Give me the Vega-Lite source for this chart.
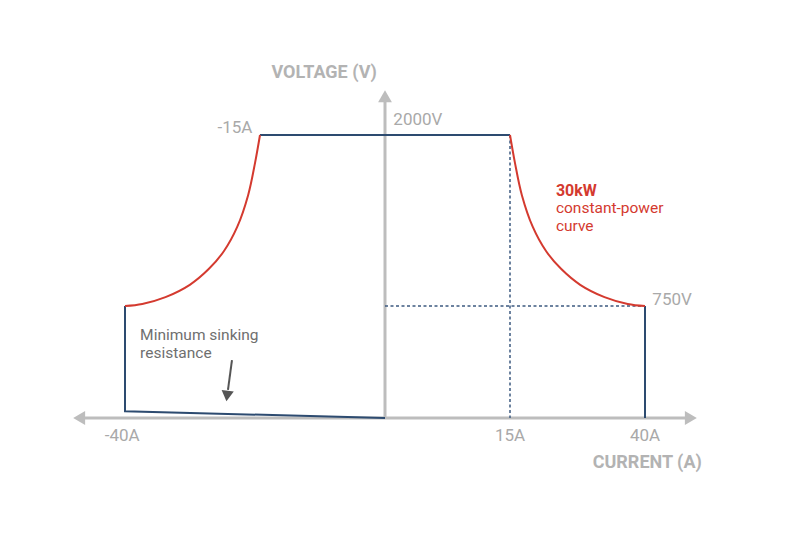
{
  "$schema": "https://vega.github.io/schema/vega-lite/v6.json",
  "width": 800,
  "height": 546,
  "padding": 0,
  "autosize": "none",
  "background": "white",
  "config": {"view": {"stroke": null}, "text": {"font": "Roboto"}},
  "datasets": {
    "axes": [
      {"seg": "x", "i": -45, "v": 0, "o": 1},
      {"seg": "x", "i": 45, "v": 0, "o": 2},
      {"seg": "y", "i": 0, "v": 0, "o": 1},
      {"seg": "y", "i": 0, "v": 2330, "o": 2}
    ],
    "heads": [
      {"i": -45, "v": 0, "shape": "triangle-left"},
      {"i": 45, "v": 0, "shape": "triangle-right"},
      {"i": 0, "v": 2330, "shape": "triangle-up"}
    ],
    "dashed": [
      {"seg": "h", "i": 0, "v": 750, "o": 1},
      {"seg": "h", "i": 40, "v": 750, "o": 2},
      {"seg": "vv", "i": 15, "v": 2000, "o": 1},
      {"seg": "vv", "i": 15, "v": 0, "o": 2}
    ],
    "blue": [
      {"seg": "top", "i": -15, "v": 2000, "o": 1},
      {"seg": "top", "i": 15, "v": 2000, "o": 2},
      {"seg": "right", "i": 40, "v": 750, "o": 1},
      {"seg": "right", "i": 40, "v": 0, "o": 2},
      {"seg": "left", "i": -40, "v": 750, "o": 1},
      {"seg": "left", "i": -40, "v": 45, "o": 2},
      {"seg": "left", "i": 0, "v": 0, "o": 3}
    ],
    "red": [
      {"seg": "R", "i": 15, "v": 2000, "o": 1},
      {"seg": "R", "i": 15.9, "v": 1800, "o": 2},
      {"seg": "R", "i": 17.2, "v": 1560, "o": 3},
      {"seg": "R", "i": 19.2, "v": 1330, "o": 4},
      {"seg": "R", "i": 21.7, "v": 1150, "o": 5},
      {"seg": "R", "i": 24.5, "v": 1020, "o": 6},
      {"seg": "R", "i": 28, "v": 905, "o": 7},
      {"seg": "R", "i": 32.5, "v": 815, "o": 8},
      {"seg": "R", "i": 36.8, "v": 765, "o": 9},
      {"seg": "R", "i": 40, "v": 750, "o": 10},
      {"seg": "L", "i": -40, "v": 750, "o": 1},
      {"seg": "L", "i": -36.8, "v": 765, "o": 2},
      {"seg": "L", "i": -32.5, "v": 815, "o": 3},
      {"seg": "L", "i": -28, "v": 905, "o": 4},
      {"seg": "L", "i": -24.5, "v": 1020, "o": 5},
      {"seg": "L", "i": -21.7, "v": 1150, "o": 6},
      {"seg": "L", "i": -19.2, "v": 1330, "o": 7},
      {"seg": "L", "i": -17.2, "v": 1560, "o": 8},
      {"seg": "L", "i": -15.9, "v": 1800, "o": 9},
      {"seg": "L", "i": -15, "v": 2000, "o": 10}
    ],
    "pointer": [
      {"i": -20.19, "v": 388, "o": 1},
      {"i": -20.93, "v": 188, "o": 2}
    ],
    "pointerHead": [{"i": -21.1, "v": 147}],
    "labelsCenter": [
      {"t": "-40A", "i": -40.3, "v": -120},
      {"t": "15A", "i": 15, "v": -120},
      {"t": "40A", "i": 40, "v": -120}
    ],
    "labelsLeft": [
      {"t": "2000V", "i": 1.0, "v": 2128},
      {"t": "750V", "i": 40.8, "v": 794}
    ],
    "labelsRight": [
      {"t": "-15A", "i": -16.4, "v": 2060}
    ],
    "titleV": [{"t": "VOLTAGE (V)", "i": -7.3, "v": 2528}],
    "titleA": [{"t": "CURRENT (A)", "i": 46.2, "v": -301}],
    "note": [
      {"t": ["Minimum sinking", "resistance"], "i": -37.2, "v": 542}
    ],
    "redBold": [{"t": "30kW", "i": 23.5, "v": 1591}],
    "redText": [
      {"t": ["constant-power", "curve"], "i": 23.5, "v": 1452}
    ]
  },
  "encoding": {
    "x": {"field": "i", "type": "quantitative", "axis": null,
      "scale": {"domain": [-46, -40, -15, 0, 15, 40, 46], "range": [70, 125, 260, 385, 510, 645, 700], "nice": false, "zero": false}},
    "y": {"field": "v", "type": "quantitative", "axis": null,
      "scale": {"domain": [0, 750, 2000, 2400], "range": [418, 306, 135, 88], "nice": false, "zero": false}}
  },
  "layer": [
    {"data": {"name": "axes"}, "mark": {"type": "line", "color": "#bdbdbd", "strokeWidth": 3},
      "encoding": {"detail": {"field": "seg"}, "order": {"field": "o"}}},
    {"data": {"name": "heads"}, "mark": {"type": "point", "filled": true, "color": "#bdbdbd", "size": 190, "opacity": 1},
      "encoding": {"shape": {"field": "shape", "type": "nominal", "scale": null}}},
    {"data": {"name": "dashed"}, "mark": {"type": "line", "color": "#3d5a80", "strokeWidth": 1.5, "strokeDash": [3, 2.5]},
      "encoding": {"detail": {"field": "seg"}, "order": {"field": "o"}}},
    {"data": {"name": "blue"}, "mark": {"type": "line", "color": "#2d4b70", "strokeWidth": 2},
      "encoding": {"detail": {"field": "seg"}, "order": {"field": "o"}}},
    {"data": {"name": "red"}, "mark": {"type": "line", "color": "#d43a2f", "strokeWidth": 2, "interpolate": "catmull-rom"},
      "encoding": {"detail": {"field": "seg"}, "order": {"field": "o"}}},
    {"data": {"name": "pointer"}, "mark": {"type": "line", "color": "#555555", "strokeWidth": 2},
      "encoding": {"order": {"field": "o"}}},
    {"data": {"name": "pointerHead"}, "mark": {"type": "point", "shape": "triangle-down", "filled": true, "color": "#555555", "size": 150, "opacity": 1, "angle": 7}},
    {"data": {"name": "labelsCenter"}, "mark": {"type": "text", "color": "#a9a9a9", "fontSize": 17, "baseline": "middle", "align": "center"},
      "encoding": {"text": {"field": "t"}}},
    {"data": {"name": "labelsLeft"}, "mark": {"type": "text", "color": "#a9a9a9", "fontSize": 17, "baseline": "middle", "align": "left"},
      "encoding": {"text": {"field": "t"}}},
    {"data": {"name": "labelsRight"}, "mark": {"type": "text", "color": "#a9a9a9", "fontSize": 17, "baseline": "middle", "align": "right"},
      "encoding": {"text": {"field": "t"}}},
    {"data": {"name": "titleV"}, "mark": {"type": "text", "color": "#b3b3b3", "fontSize": 18, "fontWeight": "bold", "baseline": "middle", "align": "center"},
      "encoding": {"text": {"field": "t"}}},
    {"data": {"name": "titleA"}, "mark": {"type": "text", "color": "#b3b3b3", "fontSize": 18, "fontWeight": "bold", "baseline": "middle", "align": "right"},
      "encoding": {"text": {"field": "t"}}},
    {"data": {"name": "note"}, "mark": {"type": "text", "color": "#6f6f6f", "fontSize": 15.5, "align": "left", "baseline": "top", "lineHeight": 18, "dy": -9},
      "encoding": {"text": {"field": "t"}}},
    {"data": {"name": "redBold"}, "mark": {"type": "text", "color": "#d43a2f", "fontSize": 16, "fontWeight": "bold", "align": "left", "baseline": "middle"},
      "encoding": {"text": {"field": "t"}}},
    {"data": {"name": "redText"}, "mark": {"type": "text", "color": "#d43a2f", "fontSize": 15.5, "align": "left", "baseline": "top", "lineHeight": 18, "dy": -9},
      "encoding": {"text": {"field": "t"}}}
  ]
}
